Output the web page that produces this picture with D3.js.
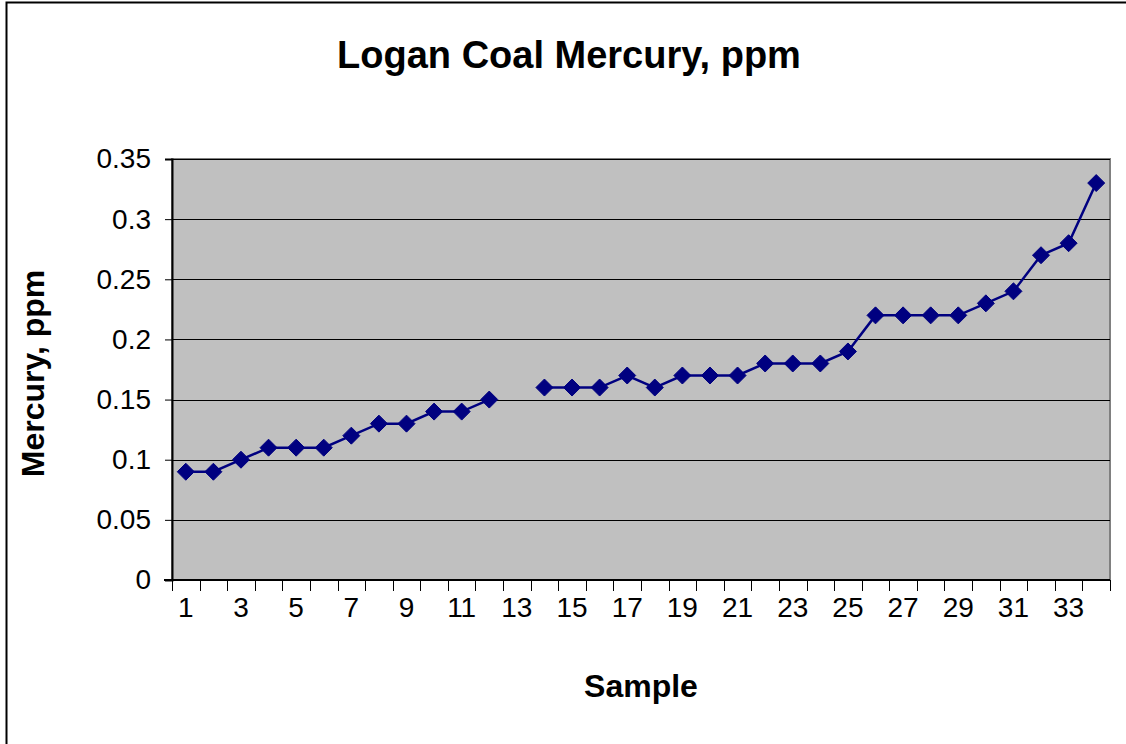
<!DOCTYPE html>
<html>
<head>
<meta charset="utf-8">
<script src="https://cdn.jsdelivr.net/npm/d3@7"></script>
<style>
  body { margin: 0; background: #fff; }
  text { font-family: "Liberation Sans", Arial, sans-serif; }
</style>
</head>
<body>
<div id="chart"></div>
<script>
// Sample numbers and mercury values (ppm); sample 13 has no value.
const samples = d3.range(1, 35);
const mercury = [
  0.09, 0.09, 0.10, 0.11, 0.11, 0.11, 0.12, 0.13, 0.13, 0.14,
  0.14, 0.15, null, 0.16, 0.16, 0.16, 0.17, 0.16, 0.17, 0.17,
  0.17, 0.18, 0.18, 0.18, 0.19, 0.22, 0.22, 0.22, 0.22, 0.23,
  0.24, 0.27, 0.28, 0.33
];
const yTicks = [0, 0.05, 0.1, 0.15, 0.2, 0.25, 0.3, 0.35];
const xTickLabels = samples.filter(s => s % 2 === 1);

const width = 1126, height = 744;
const margin = { top: 159, right: 16, bottom: 164, left: 172 };

const svg = d3.select("#chart").append("svg")
  .attr("width", width)
  .attr("height", height);

// Outer chart border (only left and top fall inside the picture).
svg.append("rect")
  .attr("x", 6.5).attr("y", 2.5)
  .attr("width", width + 10).attr("height", height + 10)
  .attr("fill", "none").attr("stroke", "#000").attr("stroke-width", 2);

const x = d3.scaleBand()
  .domain(samples)
  .range([margin.left, width - margin.right]);

const y = d3.scaleLinear()
  .domain([0, 0.35])
  .range([height - margin.bottom, margin.top]);

// Plot area.
svg.append("rect")
  .attr("x", margin.left).attr("y", margin.top)
  .attr("width", x.range()[1] - margin.left)
  .attr("height", y(0) - margin.top)
  .attr("fill", "#c0c0c0")
  .attr("stroke", "#808080").attr("stroke-width", 2);

// Gridlines.
svg.append("g")
  .selectAll("line")
  .data(yTicks.slice(1))
  .join("line")
    .attr("x1", margin.left).attr("x2", x.range()[1])
    .attr("y1", d => Math.round(y(d)) + 0.5).attr("y2", d => Math.round(y(d)) + 0.5)
    .attr("stroke", "#000").attr("stroke-width", 1);

// Y axis.
const yAxis = svg.append("g")
  .attr("transform", `translate(${margin.left},0)`)
  .call(d3.axisLeft(y).tickValues(yTicks).tickSize(7).tickPadding(14)
    .tickFormat(d => d3.format("")(+d.toFixed(2))));
yAxis.select(".domain").attr("stroke", "#000").attr("stroke-width", 2);
yAxis.selectAll(".tick line").attr("stroke", "#000");
yAxis.selectAll(".tick text")
  .attr("font-size", 28).attr("fill", "#000")
  .attr("font-family", "Liberation Sans, Arial, sans-serif");

// X axis: ticks on category boundaries, labels every other sample.
const xAxisG = svg.append("g")
  .attr("transform", `translate(0,${y(0)})`);
xAxisG.append("line")
  .attr("x1", margin.left - 8).attr("x2", x.range()[1])
  .attr("stroke", "#000").attr("stroke-width", 2);
xAxisG.selectAll("line.tk")
  .data(samples.concat([samples.length + 1]))
  .join("line")
    .attr("class", "tk")
    .attr("x1", (d, i) => Math.round(margin.left + i * x.bandwidth()) + 0.5)
    .attr("x2", (d, i) => Math.round(margin.left + i * x.bandwidth()) + 0.5)
    .attr("y1", 0).attr("y2", 11)
    .attr("stroke", "#000");
xAxisG.selectAll("text")
  .data(xTickLabels)
  .join("text")
    .attr("x", d => x(d) + x.bandwidth() / 2)
    .attr("y", 37)
    .attr("text-anchor", "middle")
    .attr("font-size", 28)
    .text(d => d);

// Line with a gap at the missing sample.
const points = samples.map((s, i) => ({ sample: s, value: mercury[i] }));
const line = d3.line()
  .defined(d => d.value !== null)
  .x(d => x(d.sample) + x.bandwidth() / 2)
  .y(d => y(d.value));

svg.append("path")
  .datum(points)
  .attr("fill", "none")
  .attr("stroke", "#000080")
  .attr("stroke-width", 2.5)
  .attr("d", line);

// Diamond markers.
const r = 8.5;
svg.append("g")
  .selectAll("path")
  .data(points.filter(d => d.value !== null))
  .join("path")
    .attr("transform", d => `translate(${x(d.sample) + x.bandwidth() / 2},${y(d.value)})`)
    .attr("d", `M0,${-r}L${r},0L0,${r}L${-r},0Z`)
    .attr("fill", "#000080")
    .attr("stroke", "#000080");

// Titles.
svg.append("text")
  .attr("x", 569).attr("y", 68)
  .attr("text-anchor", "middle")
  .attr("font-size", 38).attr("font-weight", "bold")
  .text("Logan Coal Mercury, ppm");

svg.append("text")
  .attr("x", 641).attr("y", 697)
  .attr("text-anchor", "middle")
  .attr("font-size", 32).attr("font-weight", "bold")
  .text("Sample");

svg.append("text")
  .attr("transform", `translate(44,${(margin.top + y(0)) / 2 + 4}) rotate(-90)`)
  .attr("text-anchor", "middle")
  .attr("font-size", 32).attr("font-weight", "bold")
  .text("Mercury, ppm");
</script>
</body>
</html>
